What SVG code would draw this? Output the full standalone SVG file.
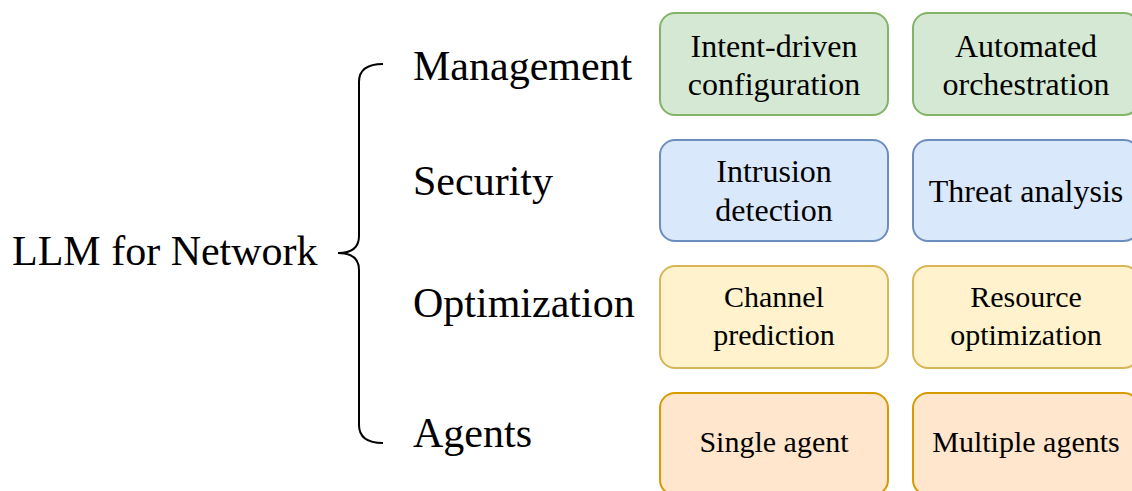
<svg xmlns="http://www.w3.org/2000/svg" width="1132" height="491" viewBox="0 0 1132 491">
<style>
text{font-family:"Liberation Serif","Times New Roman",serif;fill:#000}
.big{font-size:42px}
.b1{font-size:32px;text-anchor:middle}
.b2{font-size:30px;text-anchor:middle}
.box{stroke-width:2}
.g{fill:#d5e8d4;stroke:#82b366}
.bl{fill:#dae8fc;stroke:#6c8ebf}
.y{fill:#fff2cc;stroke:#d6b656}
.o{fill:#ffe6cc;stroke:#d79b00}
</style>
<rect width="1132" height="491" fill="#fff"/>
<g id="root"><text class="big" x="12" y="265">LLM for Network</text></g>
<g id="connectors"><path d="M383,64 Q359,64 359,82 L359,236 Q359,253 338,253 Q359,253 359,270 L359,425 Q359,443 383,443" fill="none" stroke="#000" stroke-width="2"/></g>
<g id="cat-management"><text class="big" x="413" y="80">Management</text></g>
<g id="cat-security"><text class="big" x="413" y="195">Security</text></g>
<g id="cat-optimization"><text class="big" x="413" y="317">Optimization</text></g>
<g id="cat-agents"><text class="big" x="413" y="447">Agents</text></g>
<g id="n-intent"><rect class="box g" x="660" y="13" width="228" height="102" rx="15"/><text class="b1" x="774" y="57">Intent-driven</text><text class="b1" x="774" y="95">configuration</text></g>
<g id="n-orch"><rect class="box g" x="913" y="13" width="226" height="102" rx="15"/><text class="b1" x="1026" y="57">Automated</text><text class="b1" x="1026" y="95">orchestration</text></g>
<g id="n-intrusion"><rect class="box bl" x="660" y="140" width="228" height="101" rx="15"/><text class="b1" x="774" y="182">Intrusion</text><text class="b1" x="774" y="221">detection</text></g>
<g id="n-threat"><rect class="box bl" x="913" y="140" width="226" height="101" rx="15"/><text class="b1" x="1026" y="202">Threat analysis</text></g>
<g id="n-channel"><rect class="box y" x="660" y="266" width="228" height="102" rx="15"/><text class="b2" x="774" y="307">Channel</text><text class="b2" x="774" y="345">prediction</text></g>
<g id="n-resource"><rect class="box y" x="913" y="266" width="226" height="102" rx="15"/><text class="b2" x="1026" y="307">Resource</text><text class="b2" x="1026" y="345">optimization</text></g>
<g id="n-single"><rect class="box o" x="660" y="393" width="228" height="102" rx="15"/><text class="b2" x="774" y="452">Single agent</text></g>
<g id="n-multi"><rect class="box o" x="913" y="393" width="226" height="102" rx="15"/><text class="b2" x="1026" y="452">Multiple agents</text></g>
</svg>
